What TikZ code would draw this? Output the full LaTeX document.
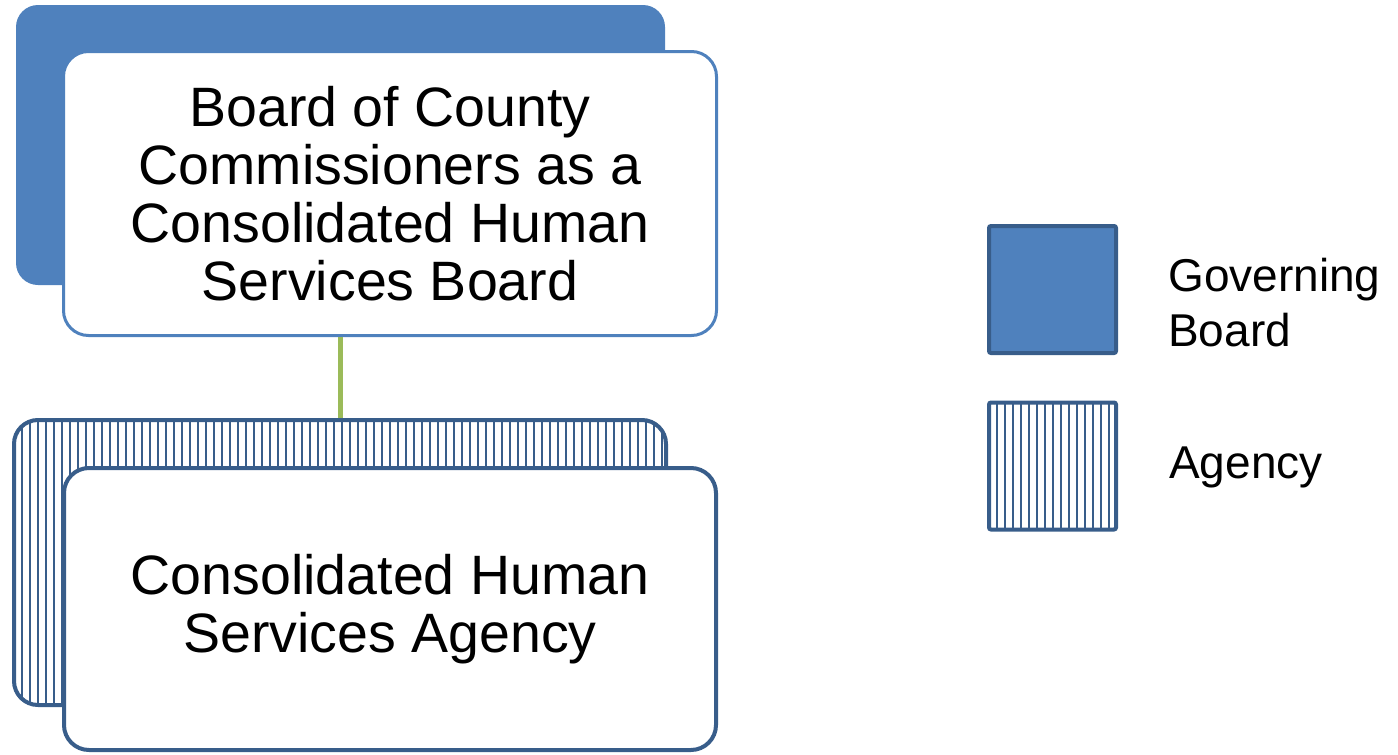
\documentclass[tikz,border=0pt]{standalone}
\usepackage{fontspec}
\setmainfont{Liberation Sans}
\usepackage{tikz}
\usetikzlibrary{positioning,calc}

\definecolor{boardblue}{HTML}{4F81BD}
\definecolor{edgeblue}{HTML}{385D8A}
\definecolor{linkgreen}{HTML}{9BBB59}

\tikzset{
  backbox/.style={rounded corners=22pt, fill=boardblue, inner sep=0pt},
  hatched/.style={rounded corners=24pt, draw=edgeblue, line width=4pt, fill=white, inner sep=0pt,
    path picture={\foreach \x in {8,16,...,660}
      \draw[edgeblue, line width=2.2pt] ([xshift=\x pt]path picture bounding box.south west)
        -- ([xshift=\x pt]path picture bounding box.north west);}},
  frontbox/.style={rounded corners=25pt, fill=white, inner sep=0pt, align=center,
    font=\fontsize{55.5}{58}\selectfont},
  keybox/.style={minimum size=127pt, inner sep=0pt, line width=4pt, draw=edgeblue, rounded corners=2pt},
  keytext/.style={inner sep=0pt, align=left, font=\fontsize{46}{55}\selectfont}
}

\begin{document}
\begin{tikzpicture}[x=1pt, y=-1pt]
\useasboundingbox (0,0) rectangle (1398,755);
% board
\node (backboard) [backbox, minimum width=649pt, minimum height=280pt] at (340.5,145) {};
\node (board) [frontbox, draw=boardblue, line width=3pt, minimum width=653pt, minimum height=284pt] at (390,193.5)
  {Board of County\\Commissioners as a\\Consolidated Human\\Services Board};
% agency
\node (backagency) [hatched, minimum width=652pt, minimum height=285pt] at (340,562.5) {};
\node (agency) [frontbox, draw=edgeblue, line width=4pt, minimum width=652pt, minimum height=282pt] at (390,609)
  {Consolidated Human\\Services Agency};
\draw[linkgreen, line width=5pt] (backagency.north) -- (backagency.north |- board.south);
% legend
\node (govkey) [keybox, fill=boardblue] at (1052.5,289.5) {};
\node (agencykey) [keybox, hatched, rounded corners=2pt, minimum size=127pt] at (1052.5,466) {};
\node (govtext) [keytext, anchor=north west] at (1168,258) {Governing\\Board};
\node (agencytext) [keytext, anchor=base west] at (1169,478) {Agency};
\end{tikzpicture}
\end{document}
